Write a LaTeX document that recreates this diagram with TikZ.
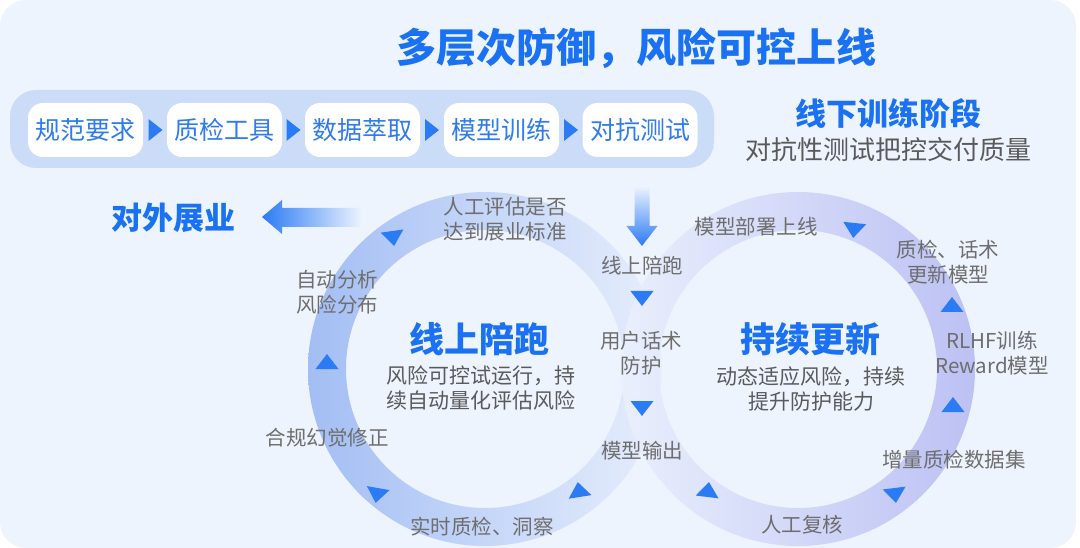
\documentclass[tikz,border=0pt]{standalone}
\usepackage{fontspec}
\setmainfont{Noto Sans CJK SC}
\usetikzlibrary{shapes.geometric}
\definecolor{bgc}{HTML}{EEF4FD}
\definecolor{barc}{HTML}{CADCF8}
\definecolor{tblue}{HTML}{1A72F2}
\definecolor{pblue}{HTML}{2F7BEA}
\definecolor{gtext}{HTML}{6E6E6E}
\definecolor{stext}{HTML}{5A5A5A}
\definecolor{tric}{HTML}{2B7BF5}
\definecolor{ringL}{HTML}{A3BEF4}
\definecolor{ringLf}{HTML}{E7EEFC}
\definecolor{ringR}{HTML}{BCC1F4}
\definecolor{ringRf}{HTML}{E9EFFC}
\newcommand\ringtri[3]{\begin{scope}[shift={(#1,#2)},rotate=#3]\fill[tric] (8,0) -- (-7,11.5) -- (-7,-11.5) -- cycle;\end{scope}}
\newcommand\pilltri[2]{\begin{scope}[shift={(#1,#2)}]\fill[tric] (7,0) -- (-7,11) -- (-7,-11) -- cycle;\end{scope}}
\tikzset{
  pill/.style={fill=white, rounded corners=15, minimum width=115pt, minimum height=54pt, inner sep=0pt, text=pblue, font=\fontsize{25}{30}\selectfont},
  lbl/.style={text=gtext, align=center, inner sep=0pt, font=\fontsize{20.5}{24.5}\selectfont},
  big/.style={text=tblue, inner sep=0pt, font=\fontsize{35}{42}\selectfont\bfseries},
  desc/.style={text=stext, align=center, inner sep=0pt, font=\fontsize{21}{24.5}\selectfont},
}
\begin{document}
\begin{tikzpicture}[x=1pt,y=-1pt]
\useasboundingbox (0,0) rectangle (1080,548);
\fill[white] (0,0) rectangle (1080,548);
\fill[bgc, rounded corners=26pt] (0,0) rectangle (1076,548);
% rings
\shade[left color=ringL, right color=ringLf, even odd rule] (485,369) circle (177pt) (485,369) circle (139pt);
\shade[left color=ringRf, right color=ringR, even odd rule] (798,369) circle (177pt) (798,369) circle (139pt);
% title
\node[text=tblue, inner sep=0pt, font=\fontsize{40}{48}\selectfont\bfseries] (title) at (636,48) {多层次防御，风险可控上线};
% bar
\node[fill=barc, rounded corners=26pt, minimum width=704pt, minimum height=78pt, inner sep=0pt] (bar) at (362,129) {};
\node[pill] (p1) at (85.5,130) {规范要求};
\node[pill] (p2) at (224.5,130) {质检工具};
\node[pill] (p3) at (362.5,130) {数据萃取};
\node[pill] (p4) at (501.5,130) {模型训练};
\node[pill] (p5) at (640,130) {对抗测试};
\pilltri{155.5}{130}
\pilltri{293.5}{130}
\pilltri{432}{130}
\pilltri{571}{130}
\node[text=tblue, inner sep=0pt, font=\fontsize{31}{36}\selectfont\bfseries] (offline) at (888,114) {线下训练阶段};
\node[text=stext, inner sep=0pt, font=\fontsize{26}{30}\selectfont] (offsub) at (888,150) {对抗性测试把控交付质量};
\node[text=tblue, inner sep=0pt, font=\fontsize{31}{36}\selectfont\bfseries] (ext) at (173,218) {对外展业};
% arrows
\shade[left color=tric, right color=bgc] (262,217) -- (282,200) -- (282,208) -- (362,208) -- (362,227) -- (282,227) -- (282,234) -- cycle;
\shade[top color=bgc, bottom color=tric] (634.5,186) -- (649.5,186) -- (649.5,226) -- (657.5,226) -- (642,246) -- (626.5,226) -- (634.5,226) -- cycle;
% ring triangles
\ringtri{393}{238}{-82}
\ringtri{327}{362}{90}
\ringtri{377}{495}{-100}
\ringtri{579}{490}{99}
\ringtri{708}{490}{83}
\ringtri{895}{495}{-83}
\ringtri{952}{305}{90}
\ringtri{953}{405}{90}
\ringtri{854}{230}{-96}
\ringtri{642}{298}{-90}
\ringtri{642}{408}{-90}
% labels
\node[lbl] (l1) at (505,219) {人工评估是否\\达到展业标准};
\node[lbl] (l2) at (337,292) {自动分析\\风险分布};
\node[lbl] (l3) at (327,438) {合规幻觉修正};
\node[lbl] (l4) at (482,527) {实时质检、洞察};
\node[lbl] (m1) at (642,266) {线上陪跑};
\node[lbl] (m2) at (641,353) {用户话术\\防护};
\node[lbl] (m3) at (642,451) {模型输出};
\node[lbl] (r1) at (756,227) {模型部署上线};
\node[lbl] (r2) at (948,262) {质检、话术\\更新模型};
\node[lbl] (r3) at (992,353) {RLHF训练\\Reward模型};
\node[lbl] (r4) at (954,460) {增量质检数据集};
\node[lbl] (r5) at (802,525) {人工复核};
% centers
\node[big] (cL) at (479,339) {线上陪跑};
\node[desc] (dL) at (481,388) {风险可控试运行，持\\续自动量化评估风险};
\node[big] (cR) at (810,339) {持续更新};
\node[desc] (dR) at (811,389) {动态适应风险，持续\\提升防护能力};
\end{tikzpicture}
\end{document}
